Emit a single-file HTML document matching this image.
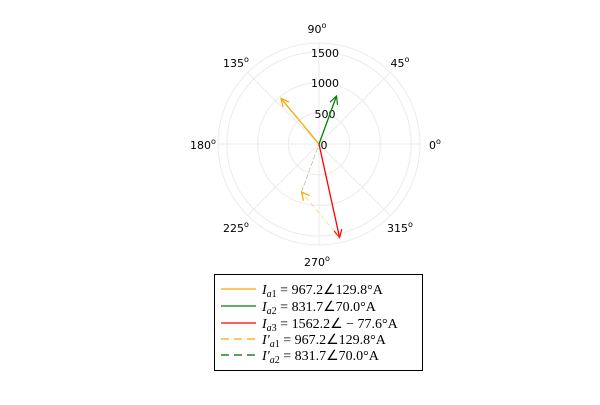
<!DOCTYPE html>
<html><head><style>body{margin:0;background:#fff}</style></head><body>
<svg width="600" height="400" xmlns="http://www.w3.org/2000/svg" font-family="DejaVu Sans, sans-serif">
<defs>
<marker id="a" viewBox="0 0 10 10" refX="9" refY="5" markerWidth="10" markerHeight="10" orient="auto" markerUnits="userSpaceOnUse"><path d="M1,1 L9,5 L1,9" fill="none" stroke="context-stroke" stroke-width="1.2"/></marker>
</defs>
<g stroke="#ebebeb" fill="none" stroke-width="1">
<circle cx="319" cy="144" r="30.7"/><circle cx="319" cy="144" r="61.4"/><circle cx="319" cy="144" r="92.1"/><circle cx="319" cy="144" r="101"/>
<line x1="218" y1="144" x2="420" y2="144"/><line x1="319" y1="43" x2="319" y2="245"/>
<line x1="247.6" y1="72.6" x2="390.4" y2="215.4"/><line x1="247.6" y1="215.4" x2="390.4" y2="72.6"/>
</g>
<g font-size="11" fill="#000" text-anchor="middle">
<text x="317" y="33">90<tspan font-size="8" dy="-5">o</tspan></text>
<text x="236" y="67">135<tspan font-size="8" dy="-5">o</tspan></text>
<text x="400" y="67">45<tspan font-size="8" dy="-5">o</tspan></text>
<text x="203" y="149">180<tspan font-size="8" dy="-5">o</tspan></text>
<text x="435" y="149">0<tspan font-size="8" dy="-5">o</tspan></text>
<text x="236" y="232">225<tspan font-size="8" dy="-5">o</tspan></text>
<text x="400" y="232">315<tspan font-size="8" dy="-5">o</tspan></text>
<text x="317" y="266">270<tspan font-size="8" dy="-5">o</tspan></text>
</g>
<g font-size="11" fill="#000" text-anchor="middle">
<text x="325" y="57">1500</text><text x="325" y="87">1000</text><text x="325" y="118">500</text><text x="324" y="149">0</text>
</g>
<line x1="319" y1="144" x2="281" y2="98.4" stroke="orange" stroke-width="1.3" marker-end="url(#a)"/>
<line x1="319" y1="144" x2="336.5" y2="96" stroke="green" stroke-width="1.3" marker-end="url(#a)"/>
<line x1="319" y1="144" x2="339.6" y2="237.7" stroke="red" stroke-width="1.3" marker-end="url(#a)"/>
<line x1="301.5" y1="192" x2="319" y2="144" stroke="green" stroke-width="0.6" stroke-opacity="0.5" stroke-dasharray="5,2"/>
<line x1="339.5" y1="237.6" x2="301.5" y2="192" stroke="orange" stroke-width="0.7" stroke-opacity="0.5" stroke-dasharray="5,3" marker-end="url(#a)"/>
<rect x="214.5" y="274.5" width="208" height="96" fill="#fff" stroke="#000" stroke-width="1"/>
<g stroke-width="1.3">
<line x1="221" y1="289" x2="256" y2="289" stroke="orange"/>
<line x1="221" y1="306" x2="256" y2="306" stroke="green"/>
<line x1="221" y1="323" x2="256" y2="323" stroke="red"/>
<line x1="221" y1="339" x2="256" y2="339" stroke="orange" stroke-dasharray="8,5"/>
<line x1="221" y1="355" x2="256" y2="355" stroke="darkgreen" stroke-dasharray="8,5"/>
</g>
<g font-family="Liberation Serif, serif" font-size="14" fill="#000">
<text x="262" y="294"><tspan font-style="italic">I</tspan><tspan font-size="10" dy="3" font-style="italic">a</tspan><tspan font-size="10">1</tspan><tspan dy="-3"> = 967.2∠129.8°A</tspan></text>
<text x="262" y="311"><tspan font-style="italic">I</tspan><tspan font-size="10" dy="3" font-style="italic">a</tspan><tspan font-size="10">2</tspan><tspan dy="-3"> = 831.7∠70.0°A</tspan></text>
<text x="262" y="328"><tspan font-style="italic">I</tspan><tspan font-size="10" dy="3" font-style="italic">a</tspan><tspan font-size="10">3</tspan><tspan dy="-3"> = 1562.2∠ − 77.6°A</tspan></text>
<text x="262" y="344"><tspan font-style="italic">I′</tspan><tspan font-size="10" dy="3" font-style="italic">a</tspan><tspan font-size="10">1</tspan><tspan dy="-3"> = 967.2∠129.8°A</tspan></text>
<text x="262" y="360"><tspan font-style="italic">I′</tspan><tspan font-size="10" dy="3" font-style="italic">a</tspan><tspan font-size="10">2</tspan><tspan dy="-3"> = 831.7∠70.0°A</tspan></text>
</g>
</svg>
</body></html>
